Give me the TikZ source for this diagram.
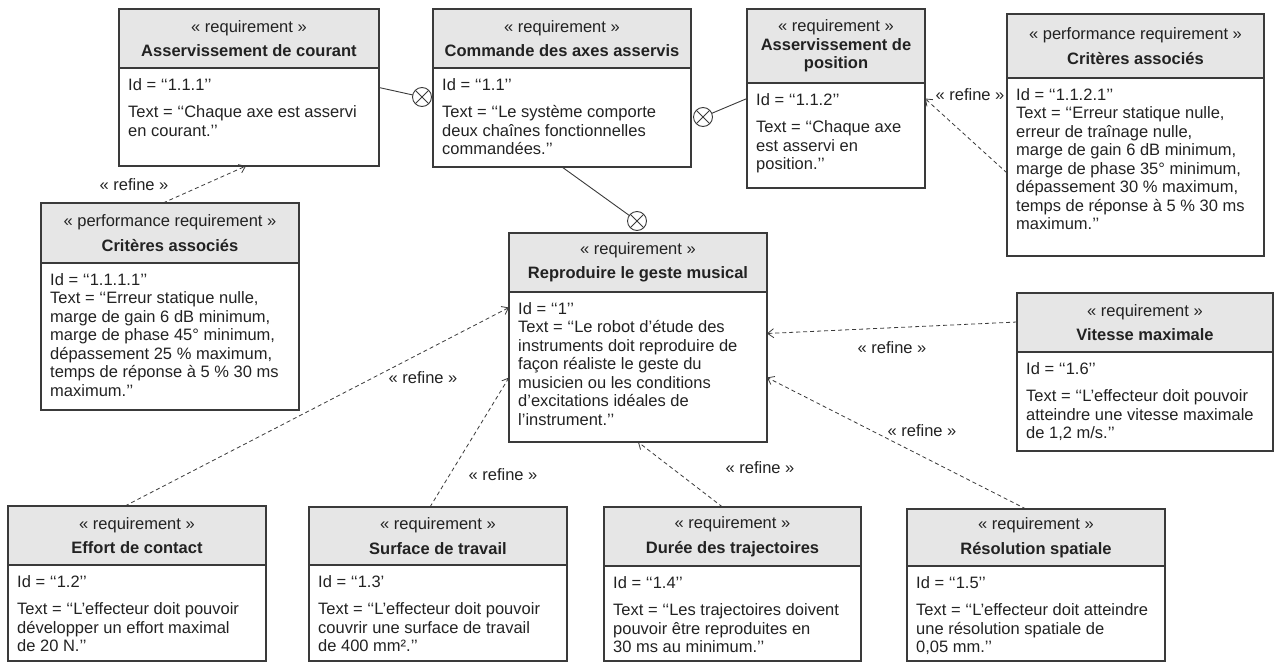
\documentclass[tikz,border=0pt]{standalone}
\usepackage{fontspec}
\setmainfont{Liberation Sans}
\usetikzlibrary{arrows.meta}
\newcommand{\ft}{\fontsize{16.5}{18.5}\selectfont}
\definecolor{hdrgray}{HTML}{E6E6E6}
\definecolor{linegray}{HTML}{3A3A3A}
\definecolor{txtgray}{HTML}{222222}
\tikzset{
  hdrfill/.style={fill=hdrgray},
  boxline/.style={draw=linegray, line width=1.2pt},
  boxnode/.style={draw=linegray, line width=1.2pt, rectangle, inner sep=0pt, outer sep=0pt},
  hdrtext/.style={font=\ft, align=center, inner sep=0pt, text=txtgray},
  bodytext/.style={font=\ft, align=left, inner sep=0pt, text=txtgray},
  contain/.style={draw=linegray, line width=0.9pt, circle, minimum size=19pt, inner sep=0pt, outer sep=0pt},
  assoc/.style={draw=linegray, line width=0.9pt},
  refine/.style={draw=linegray, line width=0.8pt, dash pattern=on 4pt off 3pt, -{Straight Barb[length=6pt,width=9pt,line width=0.8pt]}},
  refinelbl/.style={font=\ft, inner sep=0pt, text=txtgray}
}
% #1 name, #2 x1, #3 y1, #4 x2, #5 y header bottom, #6 y2, #7 header, #8 body
\newcommand{\reqbox}[8]{%
  \fill[hdrfill] (#2,#3) rectangle (#4,#5);
  \draw[boxline] (#2,#5) -- (#4,#5);
  \node[boxnode, minimum width={#4-#2}, minimum height={#6-#3}, anchor=north west] (#1) at (#2,#3) {};
  \node[hdrtext] at ({(#2+#4)/2},{(#3+#5)/2}) {#7};
  \node[bodytext, anchor=north west] at ({#2+9},{#5+10}) {#8};
}
\begin{document}
\begin{tikzpicture}[x=1pt,y=-1pt]
\useasboundingbox (0,0) rectangle (1274,664);

\reqbox{A}{119}{9}{379}{68}{166}{« requirement »\\[6pt]\textbf{Asservissement de courant}}
  {Id = ‘‘1.1.1’’\\[9pt]Text = ‘‘Chaque axe est asservi\\en courant.’’}
\reqbox{B}{433}{9}{691}{68}{167}{« requirement »\\[6pt]\textbf{Commande des axes asservis}}
  {Id = ‘‘1.1’’\\[9pt]Text = ‘‘Le système comporte\\deux chaînes fonctionnelles\\commandées.’’}
\reqbox{C}{747}{9}{925}{83}{188}{« requirement »\\\textbf{Asservissement de}\\\textbf{position}}
  {Id = ‘‘1.1.2’’\\[9pt]Text = ‘‘Chaque axe\\est asservi en\\position.’’}
\reqbox{D}{1007}{14}{1264}{78}{256}{« performance requirement »\\[6pt]\textbf{Critères associés}}
  {Id = ‘‘1.1.2.1’’\\Text = ‘‘Erreur statique nulle,\\erreur de traînage nulle,\\marge de gain 6 dB minimum,\\marge de phase 35° minimum,\\dépassement 30 \% maximum,\\temps de réponse à 5 \% 30 ms\\maximum.’’}
\reqbox{E}{41}{203}{299}{263}{410}{« performance requirement »\\[6pt]\textbf{Critères associés}}
  {Id = ‘‘1.1.1.1’’\\Text = ‘‘Erreur statique nulle,\\marge de gain 6 dB minimum,\\marge de phase 45° minimum,\\dépassement 25 \% maximum,\\temps de réponse à 5 \% 30 ms\\maximum.’’}
\reqbox{F}{509}{233}{767}{292}{442}{« requirement »\\[6pt]\textbf{Reproduire le geste musical}}
  {Id = ‘‘1’’\\Text = ‘‘Le robot d’étude des\\instruments doit reproduire de\\façon réaliste le geste du\\musicien ou les conditions\\d’excitations idéales de\\l’instrument.’’}
\reqbox{G}{1017}{293}{1273}{352}{451}{« requirement »\\[6pt]\textbf{Vitesse maximale}}
  {Id = ‘‘1.6’’\\[9pt]Text = ‘‘L’effecteur doit pouvoir\\atteindre une vitesse maximale\\de 1,2 m/s.’’}
\reqbox{H}{8}{506}{266}{565}{661}{« requirement »\\[6pt]\textbf{Effort de contact}}
  {Id = ‘‘1.2’’\\[9pt]Text = ‘‘L’effecteur doit pouvoir\\développer un effort maximal\\de 20 N.’’}
\reqbox{I}{309}{507}{567}{565}{661}{« requirement »\\[6pt]\textbf{Surface de travail}}
  {Id = ‘‘1.3’\\[9pt]Text = ‘‘L’effecteur doit pouvoir\\couvrir une surface de travail\\de 400 mm².’’}
\reqbox{J}{604}{507}{861}{566}{661}{« requirement »\\[6pt]\textbf{Durée des trajectoires}}
  {Id = ‘‘1.4’’\\[9pt]Text = ‘‘Les trajectoires doivent\\pouvoir être reproduites en\\30 ms au minimum.’’}
\reqbox{K}{907}{509}{1165}{566}{661}{« requirement »\\[6pt]\textbf{Résolution spatiale}}
  {Id = ‘‘1.5’’\\[9pt]Text = ‘‘L’effecteur doit atteindre\\une résolution spatiale de\\0,05 mm.’’}

% containment circles
\node[contain] (cAB) at (422,97) {};
\node[contain] (cCB) at (703,117) {};
\node[contain] (cFB) at (637,221) {};
\foreach \c in {cAB,cCB,cFB}{
  \draw[assoc] (\c.45) -- (\c.225);
  \draw[assoc] (\c.135) -- (\c.315);
}
\draw[assoc] (A.east) -- (cAB);
\draw[assoc] (C.west) -- (cCB);
\draw[assoc] (B.south) -- (cFB);

% refine dependencies
\draw[refine] ([xshift=-7pt]E.north) -- ([xshift=-3pt]A.south);
\draw[refine] ([yshift=-38pt]D.west) -- (C.east);
\draw[refine] ([yshift=50pt]G.west) -- ([yshift=4pt]F.east);
\draw[refine] ([xshift=-10pt]K.north) -- ([yshift=-40pt]F.east);
\draw[refine] ([xshift=-10pt]J.north) -- (F.south);
\draw[refine] ([xshift=-8pt]I.north) -- ([yshift=-40pt]F.west);
\draw[refine] ([xshift=-12pt]H.north) -- ([yshift=30pt]F.west);

\node[refinelbl] (r1) at (134,185) {« refine »};
\node[refinelbl] (r2) at (970,95) {« refine »};
\node[refinelbl] (r3) at (892,348) {« refine »};
\node[refinelbl] (r4) at (922,431) {« refine »};
\node[refinelbl] (r5) at (760,468) {« refine »};
\node[refinelbl] (r6) at (503,475) {« refine »};
\node[refinelbl] (r7) at (423,378) {« refine »};
\end{tikzpicture}
\end{document}
